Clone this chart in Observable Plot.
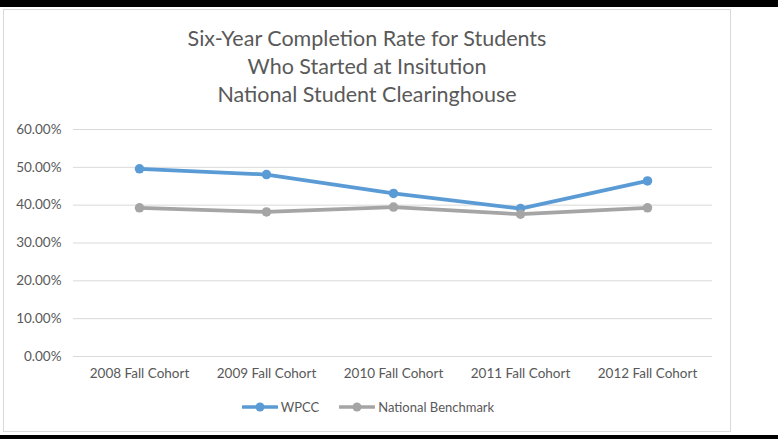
<!DOCTYPE html>
<html>
<head>
<meta charset="utf-8">
<script src="https://cdn.jsdelivr.net/npm/d3@7"></script>
<script src="https://cdn.jsdelivr.net/npm/@observablehq/plot@0.6"></script>
<style>
  html, body { margin: 0; padding: 0; background: #fff; }
  #wrap { position: relative; width: 778px; height: 439px; overflow: hidden; background: #fff; font-family: Lato, "Open Sans", sans-serif; }
  .band { position: absolute; left: 0; width: 778px; background: #000; }
  #frame { position: absolute; left: 3px; top: 9px; width: 726px; height: 421px; border: 1.5px solid #d9d9d9; }
  #title { position: absolute; left: 3px; width: 728px; top: 24px; text-align: center; color: #595959; font-size: 21.5px; line-height: 28px; }
  #chart { position: absolute; left: 0; top: 110px; }
  #legend { position: absolute; top: 399px; left: 0; width: 736px; display: flex; justify-content: center; gap: 20px; color: #595959; font-size: 13px; }
  .item { display: flex; align-items: center; gap: 3px; }
</style>
</head>
<body>
<div id="wrap">
  <div class="band" style="top:0;height:7px"></div>
  <div class="band" style="top:435px;height:4px"></div>
  <div id="frame"></div>
  <div id="title"></div>
  <div id="chart"></div>
  <div id="legend"></div>
</div>
<script>
const titleLines = ["Six-Year Completion Rate for Students", "Who Started at Insitution", "National Student Clearinghouse"];
const cohorts = ["2008 Fall Cohort", "2009 Fall Cohort", "2010 Fall Cohort", "2011 Fall Cohort", "2012 Fall Cohort"];
const seriesNames = ["WPCC", "National Benchmark"];
const seriesColors = ["#5b9bd5", "#a5a5a5"];
const wpcc = [0.496, 0.481, 0.431, 0.391, 0.464];
const benchmark = [0.393, 0.382, 0.395, 0.376, 0.393];
const yTicks = [0, 0.1, 0.2, 0.3, 0.4, 0.5, 0.6];

document.getElementById("title").innerHTML = titleLines.map(t => `<div>${t}</div>`).join("");

const data = [];
[wpcc, benchmark].forEach((vals, si) => {
  vals.forEach((v, i) => data.push({series: seriesNames[si], cohort: cohorts[i], value: v}));
});

const color = {domain: seriesNames, range: seriesColors};

const plot = Plot.plot({
  width: 740,
  height: 280,
  marginLeft: 73,
  marginRight: 28,
  marginTop: 19,
  marginBottom: 34,
  style: {fontFamily: "Lato, 'Open Sans', sans-serif", fontSize: "13.5px", color: "#595959", background: "transparent"},
  x: {type: "point", domain: cohorts, padding: 0.5, label: null},
  y: {domain: [0, 0.6], label: null},
  color,
  marks: [
    Plot.ruleY(yTicks, {stroke: "#d9d9d9", strokeWidth: 1}),
    Plot.axisY(yTicks, {tickSize: 0, tickPadding: 12, tickFormat: d3.format(".2%"), label: null, fill: "#595959"}),
    Plot.axisX({tickSize: 0, tickPadding: 12, label: null, fill: "#595959"}),
    ...seriesNames.map(s => Plot.line(data.filter(d => d.series === s), {x: "cohort", y: "value", stroke: "series", strokeWidth: 3.75, strokeLinejoin: "round", strokeLinecap: "round"})),
    ...seriesNames.map(s => Plot.dot(data.filter(d => d.series === s), {x: "cohort", y: "value", fill: "series", r: 4.75, stroke: "none"}))
  ]
});
document.getElementById("chart").appendChild(plot);

const legend = document.getElementById("legend");
seriesNames.forEach((s, i) => {
  const item = document.createElement("div");
  item.className = "item";
  item.innerHTML = `<svg width="36" height="12"><line x1="1" y1="6" x2="35" y2="6" stroke="${seriesColors[i]}" stroke-width="3.5" stroke-linecap="round"/><circle cx="18" cy="6" r="4.5" fill="${seriesColors[i]}"/></svg><span>${s}</span>`;
  legend.appendChild(item);
});
</script>
</body>
</html>
